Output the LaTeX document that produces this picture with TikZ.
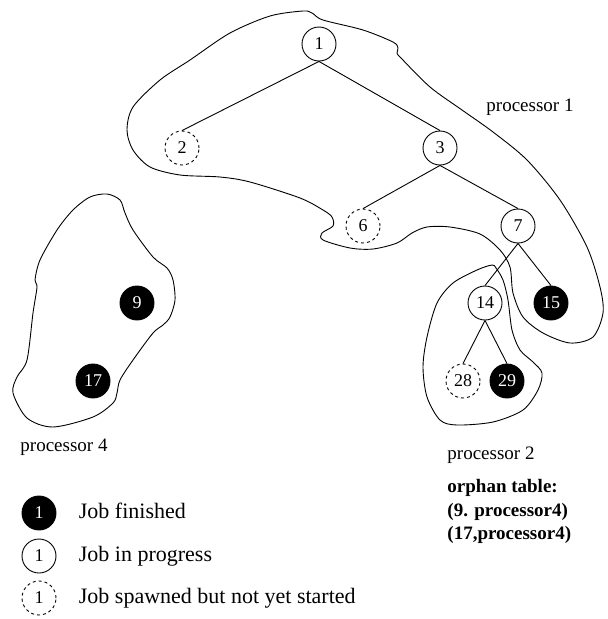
\documentclass[tikz,border=0pt]{standalone}
\usepackage{fontspec}
\setmainfont{Liberation Serif}
\usetikzlibrary{positioning}

\tikzset{
  job/.style={circle, draw, line width=0.9pt, minimum size=34pt, inner sep=0pt},
  done/.style={job, fill=black, text=white},
  busy/.style={job},
  wait/.style={job, dashed},
  legtext/.style={font=\fontsize{22}{26}\selectfont, text height=15pt, text depth=5pt, inner sep=0pt},
}

\begin{document}
\begin{tikzpicture}[x=1pt, y=-1pt, line width=0.9pt, font=\fontsize{18}{23}\selectfont]
  \useasboundingbox (0,0) rectangle (608,619);
  % the jobs
  \node[busy] (j1)  at (319,44)  {1};
  \node[wait] (j2)  at (182,148) {2};
  \node[busy] (j3)  at (440,148) {3};
  \node[wait] (j6)  at (363,226) {6};
  \node[busy] (j7)  at (518,226) {7};
  \node[busy] (j14) at (485,303) {14};
  \node[done] (j15) at (551,303) {15};
  \node[wait] (j28) at (463,381) {28};
  \node[done] (j29) at (507,381) {29};
  \node[done] (j9)  at (137,303) {9};
  \node[done] (j17) at (93,381)  {17};
  \foreach \a/\b in {j1/j2, j1/j3, j3/j6, j3/j7, j7/j14, j7/j15, j14/j28, j14/j29}
  \draw (\a.south)--(\b.north);
  % processor 1
  \draw plot[smooth cycle] coordinates {(303,11) (312,13) (323,20) (363,30) (393,42) (398,48)
    (397,53) (401,58) (430,87) (462,110) (493,132) (527,160) (560,200) (587,247) (600,287)
    (603,313) (593,337) (570,343) (543,333) (523,317) (513,293) (510,267) (500,250) (480,234)
    (450,227) (427,227) (412,233) (397,243) (373,249) (350,248) (323,240) (322,233) (333,226)
    (332,217) (323,210) (300,198) (250,182) (220,177) (180,175) (150,167) (133,150) (127,130)
    (133,107) (160,80) (190,60) (230,33) (270,16)};
  % processor 2
  \draw plot[smooth cycle] coordinates {(492,265) (477,270) (453,283) (437,303) (427,337)
    (423,367) (427,397) (440,420) (457,425) (493,422) (523,410) (538,390) (542,373) (533,362)
    (520,350) (512,330) (508,300) (503,280) (496,268)};
  % processor 4
  \draw plot[smooth cycle] coordinates {(107,194) (120,200) (125,213) (133,230) (153,257)
    (167,268) (173,280) (175,300) (170,317) (163,325) (153,333) (133,360) (120,380) (117,393)
    (113,403) (93,417) (53,427) (27,418) (13,393) (17,377) (27,360) (33,313) (37,287) (35,280)
    (40,260) (57,230) (73,210) (90,197)};
  % labels
  \node[font=\fontsize{19}{23}\selectfont] (p1) at (530,107) {processor 1};
  \node[anchor=west, inner sep=0pt, font=\fontsize{19}{23}\selectfont] (p2) at (447,455) {processor 2};
  \node[anchor=west, inner sep=0pt, font=\fontsize{19}{23}\selectfont] (p4) at (20,447) {processor 4};
  \node[anchor=north west, inner sep=0pt, align=left, font=\fontsize{19}{23.5}\selectfont\bfseries]
    (orph) at (447,479) {orphan table:\\(9. processor4)\\(17,processor4)};
  % legend
  \node[done] (l1) at (39,513) {1};
  \node[busy] (l2) at (39,556) {1};
  \node[wait] (l3) at (39,598) {1};
  \node[legtext, right=22pt of l1] (t1) {Job finished};
  \node[legtext, right=22pt of l2] (t2) {Job in progress};
  \node[legtext, right=22pt of l3] (t3) {Job spawned but not yet started};
\end{tikzpicture}
\end{document}
